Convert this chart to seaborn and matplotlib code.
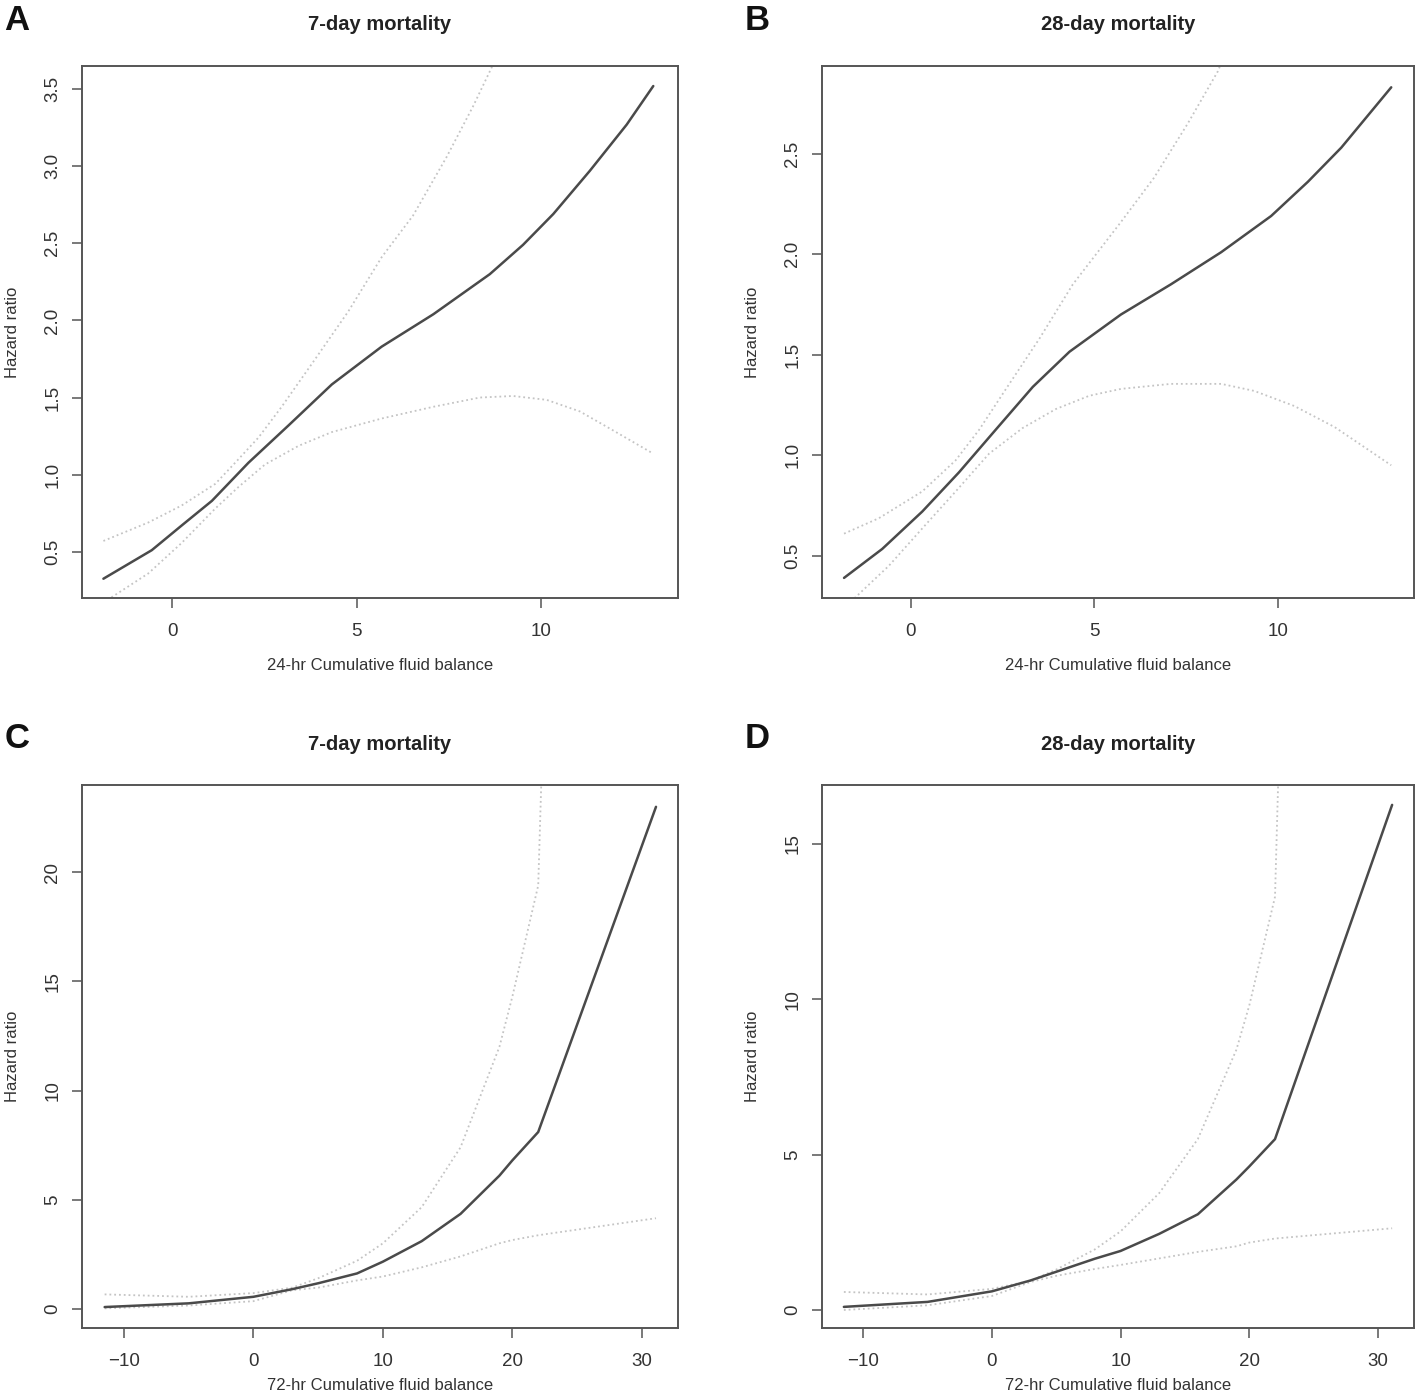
import numpy as np
import pandas as pd
import matplotlib
matplotlib.use("Agg")
import matplotlib.pyplot as plt
import seaborn as sns

# Panel A: 24-hr balance, 7-day mortality
a_x = [-1.87, -0.56, 0.25, 1.07, 2.06, 3.15, 4.32, 5.67, 7.07, 8.60, 9.50, 10.32, 11.31, 12.31, 13.03]
a_hr = [0.325, 0.51, 0.67, 0.83, 1.077, 1.32, 1.585, 1.83, 2.04, 2.30, 2.49, 2.69, 2.97, 3.27, 3.52]
a_up_x = [-1.87, -0.65, 0.25, 1.16, 1.70, 2.33, 2.96, 3.87, 4.77, 5.67, 6.52, 7.43, 8.15, 8.65, 9.5, 11.0, 13.03]
a_up = [0.57, 0.69, 0.80, 0.94, 1.077, 1.24, 1.44, 1.75, 2.06, 2.41, 2.68, 3.06, 3.39, 3.64, 4.1, 5.0, 6.5]
a_lo_x = [-1.87, -0.65, 0.25, 1.16, 1.79, 2.51, 3.42, 4.32, 5.67, 7.07, 8.33, 9.23, 10.14, 11.04, 11.94, 12.98]
a_lo = [0.17, 0.36, 0.557, 0.78, 0.92, 1.066, 1.187, 1.276, 1.364, 1.44, 1.50, 1.51, 1.485, 1.41, 1.287, 1.143]

# Panel B: 24-hr balance, 28-day mortality
b_x = [-1.82, -0.78, 0.31, 1.31, 2.31, 3.32, 4.32, 5.72, 7.08, 8.45, 9.81, 10.81, 11.72, 13.08]
b_hr = [0.39, 0.534, 0.72, 0.915, 1.127, 1.34, 1.515, 1.70, 1.85, 2.01, 2.19, 2.36, 2.53, 2.83]
b_up_x = [-1.82, -0.87, 0.31, 1.22, 1.86, 2.59, 3.50, 4.41, 5.72, 6.62, 7.54, 8.36, 9.0, 11.0, 13.08]
b_up = [0.61, 0.687, 0.82, 0.975, 1.127, 1.33, 1.58, 1.85, 2.16, 2.38, 2.65, 2.91, 3.2, 4.2, 5.3]
b_lo_x = [-1.82, -0.60, 0.31, 1.22, 2.13, 3.04, 3.95, 4.86, 5.72, 7.08, 8.45, 9.35, 10.44, 11.54, 13.08]
b_lo = [0.24, 0.45, 0.636, 0.82, 1.008, 1.135, 1.23, 1.296, 1.33, 1.355, 1.355, 1.32, 1.245, 1.14, 0.95]

# Panel C: 72-hr balance, 7-day mortality
c_x = [-11.5, -5, 0, 3, 5, 8, 10, 13, 16, 19, 20, 22, 31.1]
c_hr = [0.08, 0.25, 0.55, 0.90, 1.17, 1.62, 2.16, 3.1, 4.35, 6.1, 6.8, 8.1, 23.0]
c_up = [0.66, 0.55, 0.72, 0.97, 1.40, 2.20, 3.0, 4.66, 7.4, 12.0, 14.3, 19.4, 200.0]
c_lo = [0.02, 0.15, 0.35, 0.85, 0.97, 1.30, 1.48, 1.90, 2.40, 3.0, 3.15, 3.37, 4.15]

# Panel D: 72-hr balance, 28-day mortality
d_x = [-11.5, -5, 0, 3, 5, 8, 10, 13, 16, 19, 20, 22, 31.1]
d_hr = [0.10, 0.26, 0.60, 0.95, 1.23, 1.65, 1.90, 2.45, 3.08, 4.2, 4.62, 5.5, 16.26]
d_up = [0.58, 0.50, 0.68, 0.94, 1.30, 1.95, 2.53, 3.76, 5.5, 8.38, 9.8, 13.3, 150.0]
d_lo = [0.00, 0.15, 0.45, 0.90, 1.10, 1.32, 1.45, 1.66, 1.87, 2.05, 2.17, 2.30, 2.63]

titles = ["7-day mortality", "28-day mortality", "7-day mortality", "28-day mortality"]
letters = ["A", "B", "C", "D"]
xlabels = ["24-hr Cumulative fluid balance", "24-hr Cumulative fluid balance",
           "72-hr Cumulative fluid balance", "72-hr Cumulative fluid balance"]
xticks = [[0, 5, 10], [0, 5, 10], [-10, 0, 10, 20, 30], [-10, 0, 10, 20, 30]]
yticks = [[0.5, 1.0, 1.5, 2.0, 2.5, 3.0, 3.5], [0.5, 1.0, 1.5, 2.0, 2.5],
          [0, 5, 10, 15, 20], [0, 5, 10, 15]]

sns.set_style("white")
plt.rcParams['font.family'] = ['Liberation Sans', 'DejaVu Sans']

W, H = 1418, 1399
fig = plt.figure(figsize=(W / 100, H / 100), dpi=100)

# axes boxes in pixels: left, right, top, bottom
boxes = [(82, 678, 66, 598), (822, 1414, 66, 598), (82, 678, 785, 1328), (822, 1414, 785, 1328)]
xlab_gap = [60, 60, 50, 50]
xlims = [(-2.45, 13.7), (-2.42, 13.7), (-13.25, 32.8), (-13.2, 32.8)]
ylims = [(0.2, 3.65), (0.29, 2.936), (-0.88, 24.0), (-0.58, 16.9)]
panels = [
    ((a_x, a_hr), (a_up_x, a_up), (a_lo_x, a_lo)),
    ((b_x, b_hr), (b_up_x, b_up), (b_lo_x, b_lo)),
    ((c_x, c_hr), (c_x, c_up), (c_x, c_lo)),
    ((d_x, d_hr), (d_x, d_up), (d_x, d_lo)),
]

for i, (main, upper, lower) in enumerate(panels):
    l, r, t, b = boxes[i]
    ax = fig.add_axes([l / W, 1 - b / H, (r - l) / W, (b - t) / H])
    for (xs, ys) in (upper, lower):
        sns.lineplot(x=xs, y=ys, ax=ax, color="#c4c4c4", lw=1.3, linestyle=":", sort=False)
    sns.lineplot(x=main[0], y=main[1], ax=ax, color="#4a4a4a", lw=1.8, sort=False)
    ax.set_xlim(*xlims[i])
    ax.set_ylim(*ylims[i])
    ax.set_xticks(xticks[i])
    ax.set_yticks(yticks[i])
    if i < 2:
        ax.set_yticklabels([f"{v:.1f}" for v in yticks[i]], rotation=90, va="center")
    else:
        ax.set_yticklabels([str(v) for v in yticks[i]], rotation=90, va="center")
    ax.tick_params(axis="both", direction="out", length=7, width=1.1, color="#555555",
                   labelsize=13.5, labelcolor="#333333", bottom=True, left=True)
    ax.tick_params(axis="x", pad=11)
    ax.tick_params(axis="y", pad=8)
    for s in ax.spines.values():
        s.set_color("#555555")
        s.set_linewidth(1.4)
    ax.set_xlabel(xlabels[i], fontsize=12, color="#333333")
    ax.set_ylabel("Hazard ratio", fontsize=12, color="#333333")
    ax.xaxis.set_label_coords(0.5, -xlab_gap[i] / (b - t))
    ax.xaxis.label.set_va("top")
    ax.yaxis.set_label_coords(-62 / (r - l), 0.5)
    # title and panel letter
    fig.text(((l + r) / 2) / W, 1 - (t - 41) / H, titles[i], ha="center", va="center",
             fontsize=14.5, fontweight="bold", color="#222222")
    fig.text((l - 65) / W, 1 - (t - 46) / H, letters[i], ha="center", va="center",
             fontsize=25, fontweight="bold", color="#111111")

fig.savefig("out.png", dpi=100, facecolor="white")
